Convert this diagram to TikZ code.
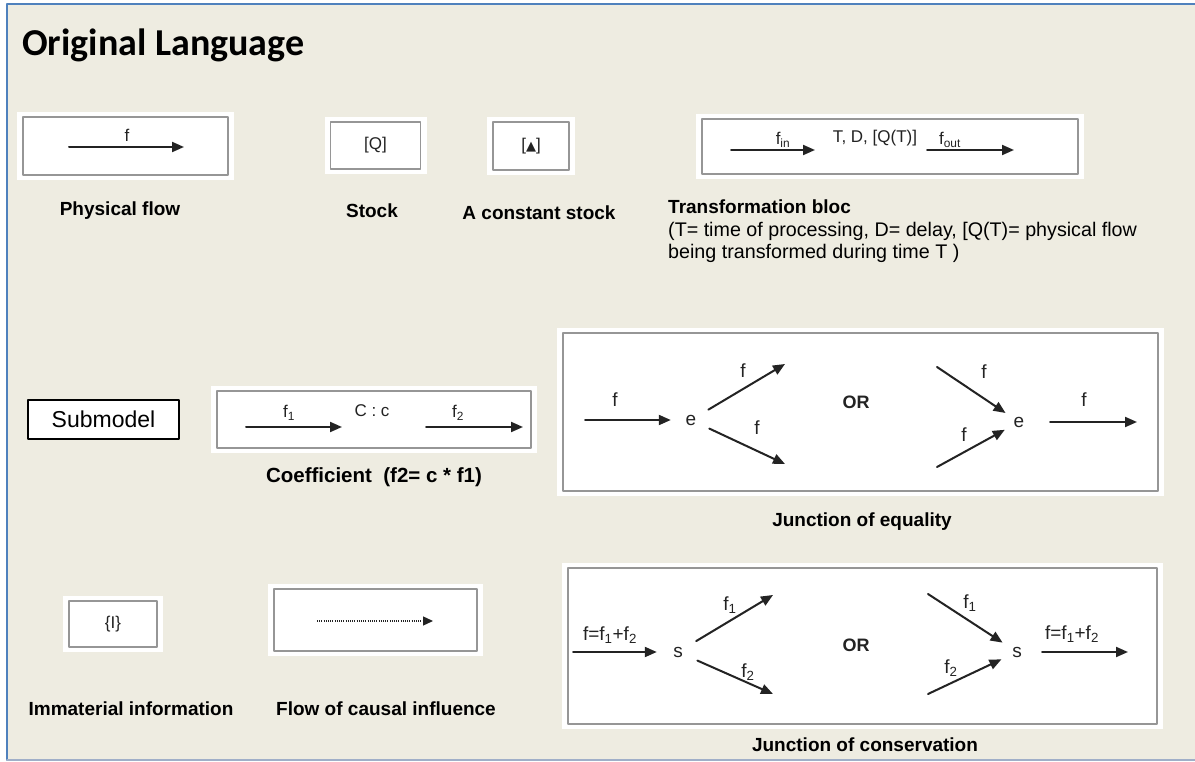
\documentclass[tikz,border=0pt]{standalone}
\usepackage{fontspec}
\setmainfont{Liberation Sans}
\newfontfamily\titlefont{Carlito}
\newfontfamily\symfont{DejaVu Sans}
\usetikzlibrary{arrows.meta}
\usetikzlibrary{positioning}
\definecolor{paper}{RGB}{238,236,225}
\definecolor{frameblue}{RGB}{79,129,189}
\definecolor{framegray}{RGB}{160,175,200}
\definecolor{boxgray}{RGB}{150,150,150}
\definecolor{ink}{RGB}{35,35,35}

\tikzset{
  pad/.style={fill=white, draw=none, inner sep=0pt},
  symbox/.style={draw=boxgray, line width=1.5pt, fill=white, inner sep=0pt},
  flow/.style={->, line width=2pt, color=ink},
  boxtxt/.style={font=\fontsize{17}{20}\selectfont, text=ink, inner sep=0pt},
  jtxt/.style={font=\fontsize{19}{22}\selectfont, text=ink, inner sep=0pt},
  caption/.style={font=\bfseries\fontsize{19}{22}\selectfont, inner sep=0pt},
  junction/.style={circle, inner sep=0pt, font=\fontsize{19}{22}\selectfont, text=ink},
}

% white sheet with the grey framed symbol on it
\newcommand{\legendbox}[4]{%
  \node[pad, minimum width=#3+12, minimum height=#4+10] at (#2) {};
  \node[symbox, minimum width=#3, minimum height=#4] (#1) at (#2) {};
}

\begin{document}
\begin{tikzpicture}[x=1pt,y=-1pt,line cap=round,line join=round,>={Triangle[length=12pt,width=10pt]}]
\useasboundingbox (0,0) rectangle (1195,762);
\fill[paper] (7,4) rectangle (1195,760);
\draw[frameblue, line width=1.5pt] (7,760) -- (7,4) -- (1195,4);
\draw[framegray, line width=1.5pt] (7,760) -- (1195,760);

\node[anchor=base west, inner sep=0pt, font=\titlefont\bfseries\fontsize{38}{44}\selectfont] (title) at (22,56) {Original Language};

% physical flow
\legendbox{pf}{125.5,146}{205}{58}
\coordinate (pfa) at (69,147);
\coordinate (pfb) at (184,147);
\draw[flow] (pfa) -- (pfb);
\node[boxtxt] (pff) at (127,135) {f};
\node[caption] (pfcap) at (120,211) {Physical flow};

% stocks
\legendbox{st}{375.5,145.5}{90}{47}
\node[boxtxt] (stq) at (st) {[Q]};
\node[caption] (stcap) at (372,211) {Stock};
\legendbox{cs}{531,146}{76}{48}
\node[boxtxt] (csq) at (cs) {[{\symfont\fontsize{13}{16}\selectfont ▲}]};
\node[caption] (cscap) at (539,213) {A constant stock};

% transformation bloc
\legendbox{tb}{890,146.5}{376}{55}
\coordinate (tbina) at (731,150);
\coordinate (tbinb) at (815,150);
\coordinate (tbouta) at (927,150);
\coordinate (tboutb) at (1014,150);
\draw[flow] (tbina) -- (tbinb);
\draw[flow] (tbouta) -- (tboutb);
\node[boxtxt] (tbfin) at (783,140) {f\textsubscript{in}};
\node[boxtxt] (tbtdq) at (875,138) {T, D, [Q(T)]};
\node[boxtxt] (tbfout) at (950,140) {f\textsubscript{out}};
\node[caption, anchor=base west] (tbcap) at (668,214) {Transformation bloc};
\node[anchor=base west, inner sep=0pt, font=\fontsize{19.7}{23}\selectfont] (tbtxta) at (668,237) {(T= time of processing, D= delay, [Q(T)= physical flow};
\node[anchor=base west, inner sep=0pt, font=\fontsize{19.7}{23}\selectfont] (tbtxtb) at (668,259) {being transformed during time T )};

% submodel
\node[draw=black, line width=1.5pt, fill=white, minimum width=151, minimum height=39, font=\fontsize{23}{26}\selectfont] (sub) at (103.5,419.5) {Submodel};

% coefficient
\legendbox{co}{374,419.5}{314}{57}
\coordinate (coa) at (246,427);
\coordinate (cob) at (342,427);
\coordinate (coc) at (426,427);
\coordinate (cod) at (523,427);
\draw[flow] (coa) -- (cob);
\draw[flow] (coc) -- (cod);
\node[boxtxt] (cof1) at (289,413) {f\textsubscript{1}};
\node[boxtxt] (coC) at (372,411) {C : c};
\node[boxtxt] (cof2) at (458,413) {f\textsubscript{2}};
\node[caption, font=\bfseries\fontsize{20.5}{24}\selectfont] (cocap) at (374,477) {Coefficient\ \ (f2= c * f1)};

% junction of equality
\legendbox{eq}{860.5,412}{595}{158}
\node[junction, minimum size=40] (eqa) at (691,420) {e};
\coordinate (eqin) at (585,420);
\coordinate (equp) at (785,364);
\coordinate (eqdn) at (785,464);
\draw[flow] (eqin) -- (eqa);
\draw[flow] (eqa) -- (equp);
\draw[flow] (eqa) -- (eqdn);
\node[jtxt] (eqfa) at (615,400) {f};
\node[jtxt] (eqfb) at (743,371) {f};
\node[jtxt] (eqfc) at (757,428) {f};
\node[jtxt, font=\bfseries\fontsize{18}{22}\selectfont] (eqor) at (856,402) {OR};
\node[junction, minimum size=32] (eqb) at (1019,422) {e};
\coordinate (equl) at (937,367);
\coordinate (eqll) at (937,467);
\coordinate (eqout) at (1137,422);
\draw[flow] (equl) -- (eqb);
\draw[flow] (eqll) -- (eqb);
\draw[flow, shorten <=15pt] (eqb) -- (eqout);
\node[jtxt] (eqfd) at (984,372) {f};
\node[jtxt] (eqfe) at (964,435) {f};
\node[jtxt] (eqff) at (1084,400) {f};
\node[caption] (eqcap) at (862,522) {Junction of equality};

% immaterial information, causal influence
\legendbox{im}{113,624}{88}{46}
\node[boxtxt] (imi) at (im) {\{I\}};
\node[caption] (imcap) at (131,709) {Immaterial information};
\legendbox{ca}{375.5,620}{203}{62}
\coordinate (caa) at (317,621);
\coordinate (cab) at (433,621);
\draw[->, >={Triangle[length=10pt,width=9pt]}, ink, line width=1.3pt, dash pattern=on 1pt off 1.2pt, line cap=butt] (caa) -- (cab);
\node[caption] (cacap) at (386,709) {Flow of causal influence};

% junction of conservation
\legendbox{cn}{862.5,646}{589}{156}
\node[junction, minimum size=42] (cna) at (678,652) {s};
\coordinate (cnin) at (573,652);
\coordinate (cnup) at (773,595);
\coordinate (cndn) at (773,694);
\draw[flow] (cnin) -- (cna);
\draw[flow] (cna) -- (cnup);
\draw[flow] (cna) -- (cndn);
\node[jtxt] (cnfa) at (610,635) {f=f\textsubscript{1}+f\textsubscript{2}};
\node[jtxt] (cnfb) at (730,605) {f\textsubscript{1}};
\node[jtxt] (cnfc) at (748,672) {f\textsubscript{2}};
\node[jtxt, font=\bfseries\fontsize{18}{22}\selectfont] (cnor) at (856,645) {OR};
\node[junction, minimum size=34] (cnb) at (1017,652) {s};
\coordinate (cnul) at (928,594);
\coordinate (cnll) at (928,694);
\coordinate (cnout) at (1128,652);
\draw[flow] (cnul) -- (cnb);
\draw[flow] (cnll) -- (cnb);
\draw[flow, shorten <=8pt] (cnb) -- (cnout);
\node[jtxt] (cnfd) at (970,603) {f\textsubscript{1}};
\node[jtxt] (cnfe) at (951,668) {f\textsubscript{2}};
\node[jtxt] (cnff) at (1072,634) {f=f\textsubscript{1}+f\textsubscript{2}};
\node[caption] (cncap) at (865,745) {Junction of conservation};
\end{tikzpicture}
\end{document}
